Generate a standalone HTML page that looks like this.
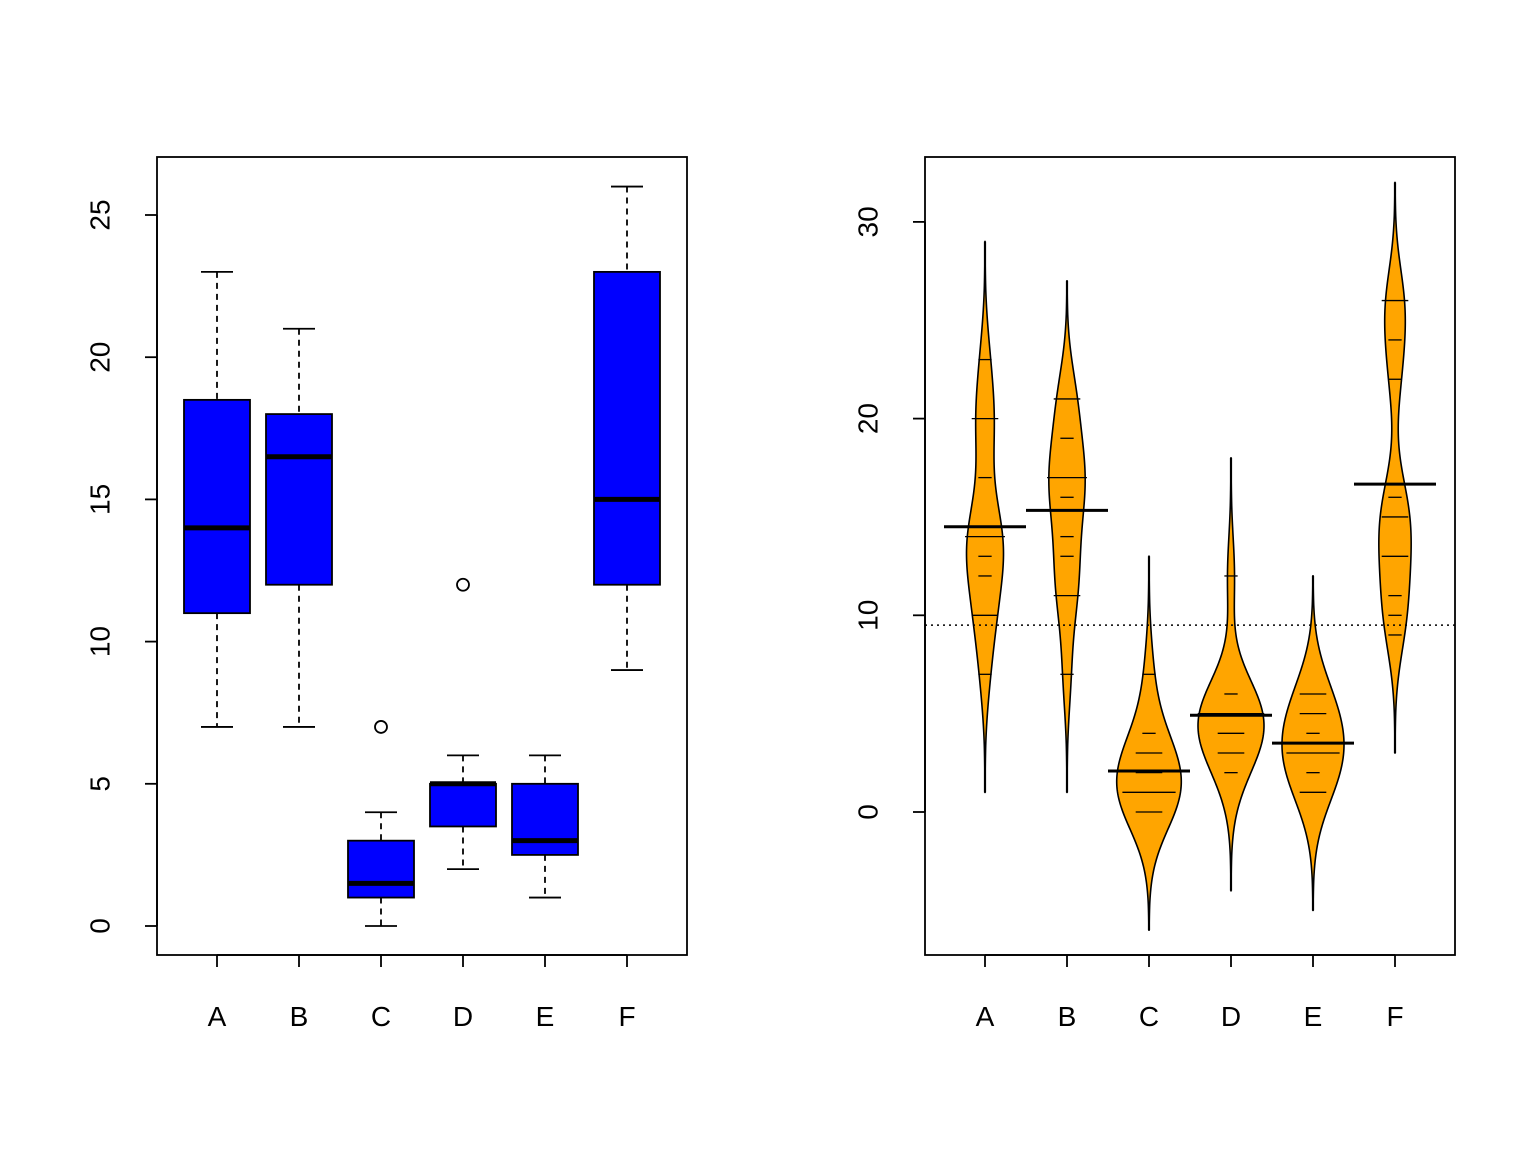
<!DOCTYPE html>
<html><head><meta charset="utf-8"><style>
body{margin:0;background:#fff}
svg{display:block;font-family:"Liberation Sans",Arial,sans-serif}
</style></head><body>
<svg id="c" width="1536" height="1152">
<rect x="0" y="0" width="1536" height="1152" fill="#fff"/>
</svg>
<script>
const groups=["A","B","C","D","E","F"];
const countsA=[10,7,20,14,14,12,10,23,17,20,14,13];
const countsB=[11,17,21,11,16,14,17,17,19,21,7,13];
const countsC=[0,1,7,2,3,1,2,1,3,0,1,4];
const countsD=[3,5,12,6,4,3,5,5,5,5,2,4];
const countsE=[3,5,3,5,3,6,1,1,3,2,6,4];
const countsF=[11,9,15,22,15,16,13,10,26,26,24,13];
const leftTicks=[0,5,10,15,20,25];
const rightTicks=[0,10,20,30];
const data=[countsA,countsB,countsC,countsD,countsE,countsF];

const svg=document.getElementById('c');
const NS='http://www.w3.org/2000/svg';
function mk(tag,attrs,parent){const e=document.createElementNS(NS,tag);for(const k in attrs)e.setAttribute(k,attrs[k]);(parent||svg).appendChild(e);return e;}

const yL=v=>926-v*28.44;
const xL=i=>217+i*82;
const yR=v=>812-v*19.67;
const xR=i=>985+i*82;

function fivenum(s){const n=s.length;const n4=Math.floor((n+3)/2)/2;const d=[1,n4,(n+1)/2,n+1-n4,n];return d.map(v=>0.5*(s[Math.floor(v)-1]+s[Math.ceil(v)-1]));}

const gL=mk('g',{});
data.forEach((arr,i)=>{
  const s=[...arr].sort((a,b)=>a-b);
  const f=fivenum(s);const iqr=f[3]-f[1];
  const inl=s.filter(v=>v>=f[1]-1.5*iqr&&v<=f[3]+1.5*iqr);
  const lo=Math.min(...inl),hi=Math.max(...inl);
  const out=s.filter(v=>v<lo||v>hi);
  const x=xL(i);
  const g=mk('g',{},gL);
  
  
  mk('line',{x1:x,x2:x,y1:yL(hi),y2:yL(f[3]),stroke:'#000','stroke-width':1.8,'stroke-dasharray':'6,5'},g);
  mk('line',{x1:x,x2:x,y1:yL(f[1]),y2:yL(lo),stroke:'#000','stroke-width':1.8,'stroke-dasharray':'6,5'},g);
  mk('line',{x1:x-16,x2:x+16,y1:yL(hi),y2:yL(hi),stroke:'#000','stroke-width':1.8},g);
  mk('line',{x1:x-16,x2:x+16,y1:yL(lo),y2:yL(lo),stroke:'#000','stroke-width':1.8},g);
  mk('rect',{x:x-33,y:yL(f[3]),width:66,height:yL(f[1])-yL(f[3]),fill:'#0000ff',stroke:'#000','stroke-width':1.8},g);
  mk('line',{x1:x-33,x2:x+33,y1:yL(f[2]),y2:yL(f[2]),stroke:'#000','stroke-width':5},g);
  out.forEach(v=>mk('circle',{cx:x,cy:yL(v),r:6,fill:'none',stroke:'#000','stroke-width':1.8},g));
});
mk('rect',{x:157,y:157,width:530,height:798,fill:'none',stroke:'#000','stroke-width':1.8,});
function axes(xf,yf,ticks,x0,tag){
  const g=mk('g',{});
  ticks.forEach(t=>{const y=yf(t);mk('line',{x1:x0-12,x2:x0,y1:y,y2:y,stroke:'#000','stroke-width':1.8},g);
    const tx=mk('text',{x:x0-57,y:y,'font-size':28,'text-anchor':'middle','dominant-baseline':'central',transform:`rotate(-90 ${x0-57} ${y})`},g);tx.textContent=t;});
  mk('line',{x1:x0,x2:x0,y1:yf(ticks[0]),y2:yf(ticks[ticks.length-1]),stroke:'#000','stroke-width':1.8},g);
  groups.forEach((c,i)=>{const x=xf(i);mk('line',{x1:x,x2:x,y1:955,y2:967,stroke:'#000','stroke-width':1.8},g);
    const tx=mk('text',{x:x,y:1026,'font-size':28,'text-anchor':'middle'},g);tx.textContent=c;});
  mk('line',{x1:xf(0),x2:xf(5),y1:955,y2:955,stroke:'#000','stroke-width':1.8},g);
}
axes(xL,yL,leftTicks,157,'left');

const gR=mk('g',{});
const all=data.flat();const grand=all.reduce((a,b)=>a+b,0)/all.length;
const bw=2;
const dens=data.map(arr=>{const mn=Math.min(...arr)-3*bw,mx=Math.max(...arr)+3*bw;const pts=[];
  for(let k=0;k<=200;k++){const v=mn+(mx-mn)*k/200;let d=0;arr.forEach(a=>{d+=Math.exp(-0.5*((v-a)/bw)**2);});pts.push([v,d/arr.length]);}return pts;});
const maxD=Math.max(...dens.flat().map(p=>p[1]));
mk('line',{x1:925,x2:1455,y1:yR(grand),y2:yR(grand),stroke:'#000','stroke-width':1.5,'stroke-dasharray':'2,4',});
data.forEach((arr,i)=>{
  const x=xR(i);const g=mk('g',{},gR);
  
  
  const pts=dens[i];const sc=33/maxD;
  mk('line',{x1:x,x2:x,y1:yR(pts[0][0]),y2:yR(pts[pts.length-1][0]),stroke:'#000','stroke-width':2.2},g);
  let d=pts.map((p,k)=>(k?'L':'M')+(x+p[1]*sc)+','+yR(p[0])).join('');
  d+=pts.slice().reverse().map(p=>'L'+(x-p[1]*sc)+','+yR(p[0])).join('')+'Z';
  mk('path',{d:d,fill:'#ffa500',stroke:'#000','stroke-width':1.6},g);
  const cnt={};arr.forEach(v=>cnt[v]=(cnt[v]||0)+1);
  Object.keys(cnt).forEach(v=>{const L=13.3*cnt[v]/2;mk('line',{x1:x-L,x2:x+L,y1:yR(+v),y2:yR(+v),stroke:'#000','stroke-width':1.3},g);});
  const m=arr.reduce((a,b)=>a+b,0)/arr.length;
  mk('line',{x1:x-41,x2:x+41,y1:yR(m),y2:yR(m),stroke:'#000','stroke-width':3},g);
});
mk('rect',{x:925,y:157,width:530,height:798,fill:'none',stroke:'#000','stroke-width':1.8,});
axes(xR,yR,rightTicks,925,'right');
</script>
</body></html>
